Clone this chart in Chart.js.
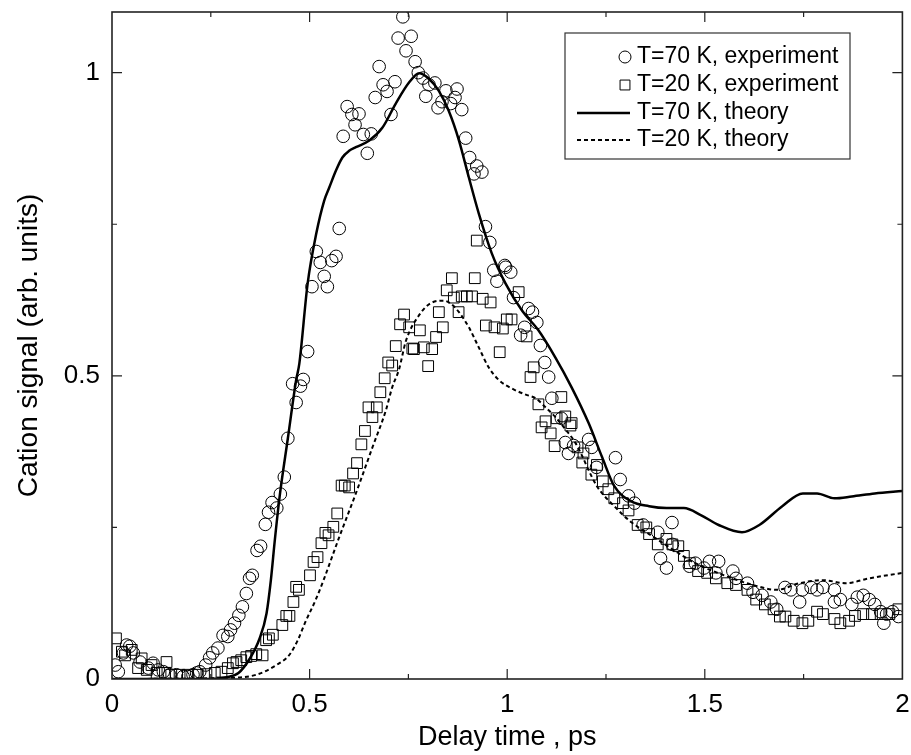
<!DOCTYPE html>
<html>
<head>
<meta charset="utf-8">
<script src="https://cdn.jsdelivr.net/npm/chart.js@4.4.1/dist/chart.umd.min.js"></script>
<style>
  html, body { margin: 0; padding: 0; background: #fff; }
</style>
</head>
<body>
<canvas id="myChart" width="911" height="755"></canvas>
<script>
// T=70 K, experiment (circles)
const exp70X = [0.008,0.016,0.029,0.037,0.045,0.054,0.071,0.092,0.104,0.117,0.130,0.146,0.163,0.180,0.192,0.205,0.214,0.222,0.237,0.247,
  0.255,0.268,0.281,0.293,0.300,0.310,0.321,0.330,0.340,0.348,0.355,0.367,0.376,0.388,0.396,0.405,0.417,0.426,0.436,0.445,
  0.457,0.466,0.477,0.484,0.495,0.506,0.517,0.527,0.537,0.545,0.556,0.567,0.575,0.585,0.595,0.607,0.615,0.625,0.636,0.646,
  0.656,0.666,0.676,0.686,0.696,0.706,0.716,0.724,0.736,0.744,0.757,0.767,0.775,0.787,0.794,0.802,0.817,0.825,0.835,0.845,
  0.857,0.868,0.873,0.885,0.895,0.905,0.916,0.923,0.936,0.945,0.956,0.966,0.974,0.994,0.996,1.009,1.016,1.034,1.044,1.054,
  1.064,1.075,1.084,1.095,1.105,1.113,1.137,1.147,1.155,1.168,1.206,1.214,1.226,1.274,1.286,1.307,1.322,1.344,1.381,1.388,
  1.403,1.417,1.418,1.461,1.476,1.498,1.512,1.528,1.535,1.571,1.579,1.608,1.622,1.645,1.667,1.682,1.703,1.718,1.740,1.747,
  1.769,1.784,1.799,1.828,1.828,1.843,1.872,1.886,1.901,1.916,1.930,1.945,1.953,1.960,1.975,1.990];
const exp70Y = [0.023,0.012,0.043,0.056,0.054,0.043,0.028,0.018,0.026,0.015,0.012,0.007,0.007,0.004,0.004,0.007,0.010,0.012,0.023,0.035,
  0.043,0.051,0.072,0.070,0.081,0.092,0.105,0.119,0.141,0.166,0.171,0.212,0.219,0.255,0.275,0.291,0.282,0.305,0.333,0.397,
  0.487,0.456,0.483,0.494,0.540,0.647,0.705,0.687,0.664,0.647,0.690,0.697,0.743,0.895,0.944,0.931,0.914,0.932,0.898,0.867,
  0.899,0.959,1.010,0.980,0.969,0.931,0.985,1.057,1.092,1.036,1.060,1.018,1.000,0.991,0.961,0.980,0.983,0.942,0.952,0.970,
  0.949,0.959,0.973,0.939,0.892,0.860,0.833,0.846,0.836,0.746,0.720,0.674,0.656,0.682,0.679,0.671,0.629,0.567,0.580,0.611,
  0.605,0.588,0.550,0.522,0.498,0.463,0.430,0.390,0.372,0.385,0.395,0.382,0.349,0.365,0.329,0.302,0.290,0.254,0.242,0.199,
  0.183,0.258,0.222,0.186,0.191,0.183,0.194,0.175,0.194,0.178,0.166,0.158,0.143,0.138,0.127,0.115,0.151,0.147,0.127,0.147,
  0.151,0.147,0.151,0.147,0.127,0.131,0.123,0.135,0.138,0.131,0.123,0.111,0.092,0.107,0.111,0.103];

// T=20 K, experiment (squares)
const exp20X = [0.010,0.025,0.033,0.050,0.066,0.075,0.088,0.100,0.113,0.134,0.138,0.150,0.171,0.192,0.217,0.239,0.260,0.277,0.293,0.306,
  0.315,0.327,0.340,0.352,0.365,0.381,0.390,0.397,0.407,0.431,0.441,0.449,0.459,0.466,0.473,0.501,0.510,0.520,0.530,0.540,
  0.548,0.560,0.570,0.581,0.589,0.600,0.610,0.620,0.631,0.640,0.649,0.659,0.670,0.679,0.690,0.699,0.709,0.718,0.729,0.739,
  0.752,0.760,0.764,0.779,0.789,0.800,0.810,0.820,0.827,0.837,0.847,0.860,0.865,0.877,0.885,0.898,0.911,0.918,0.923,0.938,
  0.946,0.958,0.968,0.981,0.989,0.999,1.011,1.029,1.049,1.059,1.067,1.079,1.087,1.097,1.110,1.120,1.125,1.137,1.147,1.160,
  1.163,1.178,1.190,1.193,1.213,1.227,1.242,1.256,1.271,1.293,1.307,1.330,1.352,1.359,1.381,1.403,1.418,1.433,1.447,1.462,
  1.483,1.506,1.528,1.557,1.579,1.608,1.630,1.652,1.674,1.690,1.704,1.725,1.747,1.762,1.784,1.799,1.828,1.843,1.865,1.880,
  1.901,1.923,1.945,1.967,1.990];
const exp20Y = [0.067,0.045,0.039,0.048,0.018,0.034,0.015,0.023,0.010,0.010,0.028,0.007,0.007,0.007,0.007,0.008,0.010,0.012,0.018,0.026,
  0.028,0.031,0.036,0.038,0.041,0.039,0.064,0.067,0.073,0.089,0.104,0.104,0.127,0.152,0.147,0.171,0.193,0.201,0.224,0.241,
  0.237,0.251,0.273,0.319,0.319,0.316,0.339,0.356,0.387,0.409,0.448,0.432,0.448,0.473,0.496,0.522,0.517,0.549,0.585,0.601,
  0.580,0.545,0.544,0.575,0.547,0.516,0.544,0.564,0.605,0.580,0.641,0.661,0.629,0.605,0.631,0.631,0.631,0.661,0.723,0.627,
  0.583,0.621,0.580,0.539,0.578,0.593,0.593,0.638,0.565,0.498,0.514,0.453,0.415,0.425,0.405,0.384,0.430,0.465,0.433,0.418,
  0.422,0.382,0.357,0.372,0.337,0.353,0.326,0.313,0.298,0.290,0.278,0.254,0.250,0.239,0.222,0.231,0.222,0.219,0.203,0.191,
  0.178,0.175,0.166,0.158,0.155,0.147,0.131,0.123,0.115,0.103,0.103,0.096,0.092,0.096,0.111,0.107,0.099,0.092,0.096,0.104,
  0.107,0.107,0.107,0.107,0.115];

// T=70 K, theory (solid)
const th70X = [0,0.25,0.29,0.32,0.348,0.373,0.391,0.402,0.412,0.424,0.445,0.466,0.474,0.495,0.517,0.537,0.55,0.567,0.583,0.60,
  0.617,0.651,0.684,0.718,0.752,0.777,0.802,0.827,0.852,0.878,0.903,0.928,0.961,0.996,1.037,1.079,1.122,1.163,1.206,1.240,
  1.271,1.314,1.359,1.403,1.447,1.491,1.535,1.594,1.638,1.696,1.748,1.784,1.828,1.872,1.93,2.0];
const th70Y = [0,0,0.003,0.01,0.033,0.066,0.108,0.163,0.229,0.30,0.397,0.493,0.52,0.652,0.735,0.789,0.811,0.839,0.86,0.871,
  0.877,0.888,0.909,0.949,0.984,0.999,0.990,0.970,0.937,0.888,0.827,0.768,0.702,0.652,0.608,0.575,0.530,0.481,0.422,0.366,
  0.318,0.293,0.285,0.282,0.282,0.270,0.254,0.242,0.254,0.285,0.306,0.306,0.298,0.301,0.306,0.31];

// T=20 K, theory (dashed)
const th20X = [0,0.30,0.365,0.416,0.449,0.470,0.49,0.515,0.537,0.575,0.617,0.659,0.693,0.709,0.726,0.744,0.777,0.810,0.840,0.857,
  0.878,0.903,0.928,0.953,0.979,1.012,1.047,1.072,1.097,1.122,1.147,1.173,1.227,1.271,1.315,1.359,1.418,1.476,1.549,1.622,
  1.682,1.740,1.798,1.857,1.916,2.0];
const th20Y = [0,0.002,0.007,0.023,0.040,0.064,0.095,0.13,0.166,0.234,0.306,0.382,0.443,0.481,0.51,0.558,0.600,0.621,0.624,0.619,
  0.605,0.580,0.547,0.514,0.493,0.479,0.469,0.463,0.448,0.432,0.412,0.389,0.318,0.285,0.258,0.239,0.214,0.191,0.171,0.155,
  0.147,0.158,0.163,0.158,0.166,0.175];

const seriesLabels = ['T=70 K, experiment', 'T=20 K, experiment', 'T=70 K, theory', 'T=20 K, theory'];
const xTicks = [0, 0.5, 1, 1.5, 2];
const yTicks = [0, 0.5, 1];

const pts = (xs, ys) => xs.map((x, i) => ({ x: x, y: ys[i] }));
const FONT = "'Liberation Sans', Arial, Helvetica, sans-serif";
const INK = '#000';

function isStep(v, step) {
  return Math.abs(v / step - Math.round(v / step)) < 1e-6;
}

// frame, inward ticks on all four sides, boxed legend
const framePlugin = {
  id: 'framePlugin',
  afterDraw(chart) {
    const ctx = chart.ctx;
    const a = chart.chartArea;
    const xs = chart.scales.x, ys = chart.scales.y;
    ctx.save();
    ctx.strokeStyle = '#222';
    ctx.lineWidth = 1.6;
    ctx.strokeRect(a.left, a.top, a.right - a.left, a.bottom - a.top);

    ctx.lineWidth = 1.2;
    ctx.beginPath();
    xs.ticks.forEach(t => {
      if (!isStep(t.value, 0.25) || t.value <= xs.min || t.value >= xs.max) return;
      const len = xTicks.includes(+t.value.toFixed(2)) ? 10 : 5;
      const px = xs.getPixelForValue(t.value);
      ctx.moveTo(px, a.bottom); ctx.lineTo(px, a.bottom - len);
      ctx.moveTo(px, a.top); ctx.lineTo(px, a.top + len);
    });
    ys.ticks.forEach(t => {
      if (!isStep(t.value, 0.25) || t.value <= ys.min || t.value >= ys.max) return;
      const len = yTicks.includes(+t.value.toFixed(2)) ? 10 : 5;
      const py = ys.getPixelForValue(t.value);
      ctx.moveTo(a.left, py); ctx.lineTo(a.left + len, py);
      ctx.moveTo(a.right, py); ctx.lineTo(a.right - len, py);
    });
    ctx.stroke();

    // legend
    const lx = 565, ly = 33, lw = 285, lh = 126;
    ctx.fillStyle = '#fff';
    ctx.fillRect(lx, ly, lw, lh);
    ctx.strokeStyle = '#333';
    ctx.lineWidth = 1.2;
    ctx.strokeRect(lx, ly, lw, lh);
    const rowY = [57, 85, 113, 140];
    ctx.font = '23px ' + FONT;
    ctx.textBaseline = 'middle';
    ctx.textAlign = 'left';
    chart.data.datasets.forEach((ds, i) => {
      const y = rowY[i];
      if (ds.showLine) {
        ctx.save();
        ctx.strokeStyle = INK;
        ctx.lineWidth = ds.borderWidth;
        ctx.setLineDash(ds.borderDash || []);
        ctx.beginPath();
        ctx.moveTo(577, y); ctx.lineTo(630, y);
        ctx.stroke();
        ctx.restore();
      } else {
        ctx.save();
        ctx.strokeStyle = INK;
        ctx.fillStyle = 'rgba(0,0,0,0)';
        ctx.lineWidth = 1;
        Chart.helpers.drawPoint(ctx, {
          pointStyle: ds.pointStyle,
          radius: ds.pointStyle === 'rect' ? 7 : 6,
          borderWidth: 1,
          rotation: 0
        }, 625, y);
        ctx.restore();
      }
      ctx.fillStyle = INK;
      ctx.fillText(ds.label, 637, y);
    });
    ctx.restore();
  }
};

const tickFmt = (v) => isStep(v, 0.5) ? String(+v.toFixed(2)) : '';

new Chart(document.getElementById('myChart'), {
  type: 'scatter',
  data: {
    datasets: [
      {
        label: seriesLabels[0],
        data: pts(exp70X, exp70Y),
        pointStyle: 'circle',
        pointRadius: 6.3,
        pointBorderWidth: 1,
        pointBorderColor: INK,
        pointBackgroundColor: 'rgba(0,0,0,0)',
        showLine: false,
        order: 2
      },
      {
        label: seriesLabels[1],
        data: pts(exp20X, exp20Y),
        pointStyle: 'rect',
        pointRadius: 7.6,
        pointBorderWidth: 1,
        pointBorderColor: INK,
        pointBackgroundColor: 'rgba(0,0,0,0)',
        showLine: false,
        order: 2
      },
      {
        label: seriesLabels[2],
        data: pts(th70X, th70Y),
        showLine: true,
        borderColor: INK,
        borderWidth: 2.5,
        pointRadius: 0,
        cubicInterpolationMode: 'monotone',
        order: 0
      },
      {
        label: seriesLabels[3],
        data: pts(th20X, th20Y),
        showLine: true,
        borderColor: INK,
        borderWidth: 2,
        borderDash: [4, 3],
        pointRadius: 0,
        cubicInterpolationMode: 'monotone',
        order: 0
      }
    ]
  },
  options: {
    responsive: false,
    animation: false,
    devicePixelRatio: 1,
    layout: { padding: { top: 12, right: 6, left: 0, bottom: 0 } },
    plugins: {
      legend: { display: false },
      tooltip: { enabled: false }
    },
    scales: {
      x: {
        type: 'linear',
        min: 0, max: 2,
        grid: { display: false, drawTicks: false },
        border: { display: false },
        ticks: {
          stepSize: 0.25,
          autoSkip: false,
          maxRotation: 0,
          padding: 10,
          color: INK,
          font: { size: 26, family: FONT },
          callback: tickFmt
        },
        title: {
          display: true,
          text: 'Delay time , ps',
          color: INK,
          font: { size: 27, family: FONT },
          padding: { top: 0, bottom: 1 }
        },
        afterFit(scale) {
          scale.height = 76;
          scale.paddingLeft = 0;
          scale.paddingRight = 0;
        }
      },
      y: {
        type: 'linear',
        min: 0, max: 1.1,
        grid: { display: false, drawTicks: false },
        border: { display: false },
        ticks: {
          stepSize: 0.25,
          autoSkip: false,
          padding: 12,
          color: INK,
          font: { size: 26, family: FONT },
          callback: tickFmt
        },
        title: {
          display: true,
          text: 'Cation signal (arb. units)',
          color: INK,
          font: { size: 28, family: FONT },
          padding: { top: 12, bottom: 0 }
        },
        afterFit(scale) {
          scale.width = 112;
          scale.paddingTop = 0;
          scale.paddingBottom = 0;
        }
      }
    }
  },
  plugins: [framePlugin]
});
</script>
</body>
</html>
